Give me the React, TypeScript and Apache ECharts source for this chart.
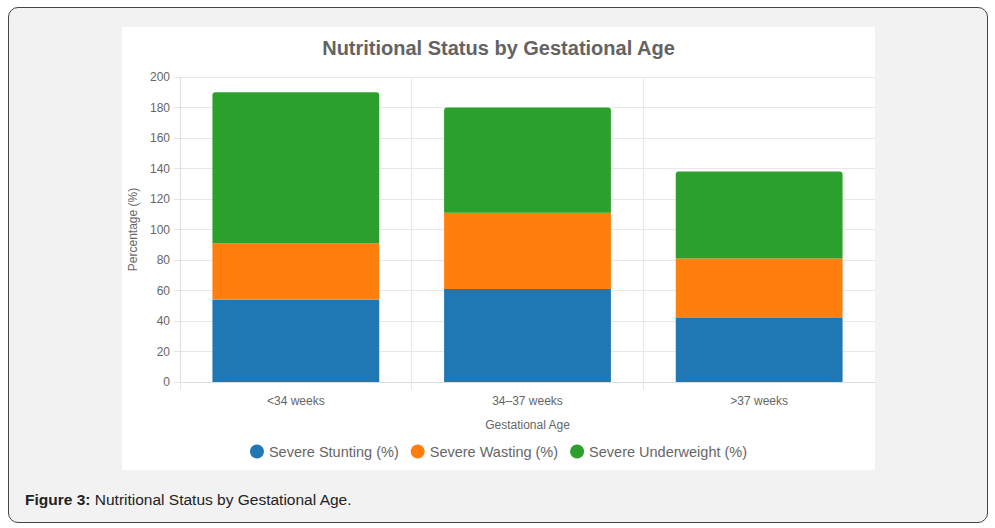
import { useEffect, useRef } from 'react'
import * as echarts from 'echarts'

const AGE_GROUPS = ['<34 weeks', '34–37 weeks', '>37 weeks']
const STUNTING = [54, 61, 42]
const WASTING = [37, 50, 39]
const UNDERWEIGHT = [99, 69, 57]
const SERIES_NAMES = ['Severe Stunting (%)', 'Severe Wasting (%)', 'Severe Underweight (%)']
const COLORS = ['#1f77b4', '#ff7f0e', '#2ca02c']

const FONT = '"Liberation Sans", Arial, sans-serif'

export default function App() {
  const chartRef = useRef<HTMLDivElement>(null)

  useEffect(() => {
    if (!chartRef.current) return
    const chart = echarts.init(chartRef.current, undefined, { renderer: 'svg' })
    const values = [STUNTING, WASTING, UNDERWEIGHT]

    chart.setOption({
      animation: false,
      textStyle: { fontFamily: FONT },
      title: {
        text: 'Nutritional Status by Gestational Age',
        left: 'center',
        top: 6,
        textStyle: { fontSize: 20, fontWeight: 'bold', color: '#636363', fontFamily: FONT },
      },
      legend: {
        bottom: 6,
        left: 'center',
        icon: 'circle',
        itemWidth: 14,
        itemHeight: 14,
        itemGap: 12,
        textStyle: { fontSize: 14.5, color: '#666', fontFamily: FONT },
        data: SERIES_NAMES,
      },
      grid: { left: 58, right: 0, top: 50, bottom: 88, outerBoundsMode: 'none', containLabel: false },
      xAxis: {
        type: 'category',
        data: AGE_GROUPS,
        name: 'Gestational Age',
        nameLocation: 'middle',
        nameGap: 37,
        nameTextStyle: { fontSize: 12, color: '#666' },
        axisLine: { lineStyle: { color: '#ddd' } },
        axisTick: { show: true, length: 8, lineStyle: { color: '#e5e5e5' } },
        axisLabel: { fontSize: 12, color: '#666', margin: 13 },
        splitLine: { show: true, lineStyle: { color: '#e8e8e8' } },
      },
      yAxis: {
        type: 'value',
        min: 0,
        max: 200,
        interval: 20,
        name: 'Percentage (%)',
        nameLocation: 'middle',
        nameGap: 40,
        nameTextStyle: { fontSize: 12, color: '#666' },
        axisLine: { show: true, lineStyle: { color: '#ddd' } },
        axisTick: { show: true, length: 6, lineStyle: { color: '#e5e5e5' } },
        axisLabel: { fontSize: 12, color: '#666', margin: 10 },
        splitLine: { lineStyle: { color: '#e8e8e8' } },
      },
      series: SERIES_NAMES.map((name, i) => ({
        name,
        type: 'bar',
        stack: 'total',
        barWidth: '72%',
        data: values[i],
        itemStyle: {
          color: COLORS[i],
          borderRadius: i === 2 ? [3, 3, 0, 0] : 0,
        },
      })),
    })

    return () => chart.dispose()
  }, [])

  return (
    <div
      style={{
        position: 'fixed',
        left: 0,
        top: 0,
        width: 995,
        height: 528,
        background: '#fff',
        fontFamily: FONT,
      }}
    >
      <div
        style={{
          position: 'absolute',
          left: 8,
          top: 7,
          width: 978,
          height: 514,
          border: '1px solid #444',
          borderRadius: 10,
          background: '#f2f2f2',
        }}
      />
      <div
        style={{
          position: 'absolute',
          left: 122,
          top: 27,
          width: 753,
          height: 443,
          background: '#fff',
        }}
      >
        <div ref={chartRef} style={{ width: 753, height: 443 }} />
      </div>
      <div
        style={{
          position: 'absolute',
          left: 25,
          top: 491,
          fontSize: 15.5,
          color: '#222',
        }}
      >
        <b>Figure 3:</b> Nutritional Status by Gestational Age.
      </div>
    </div>
  )
}
